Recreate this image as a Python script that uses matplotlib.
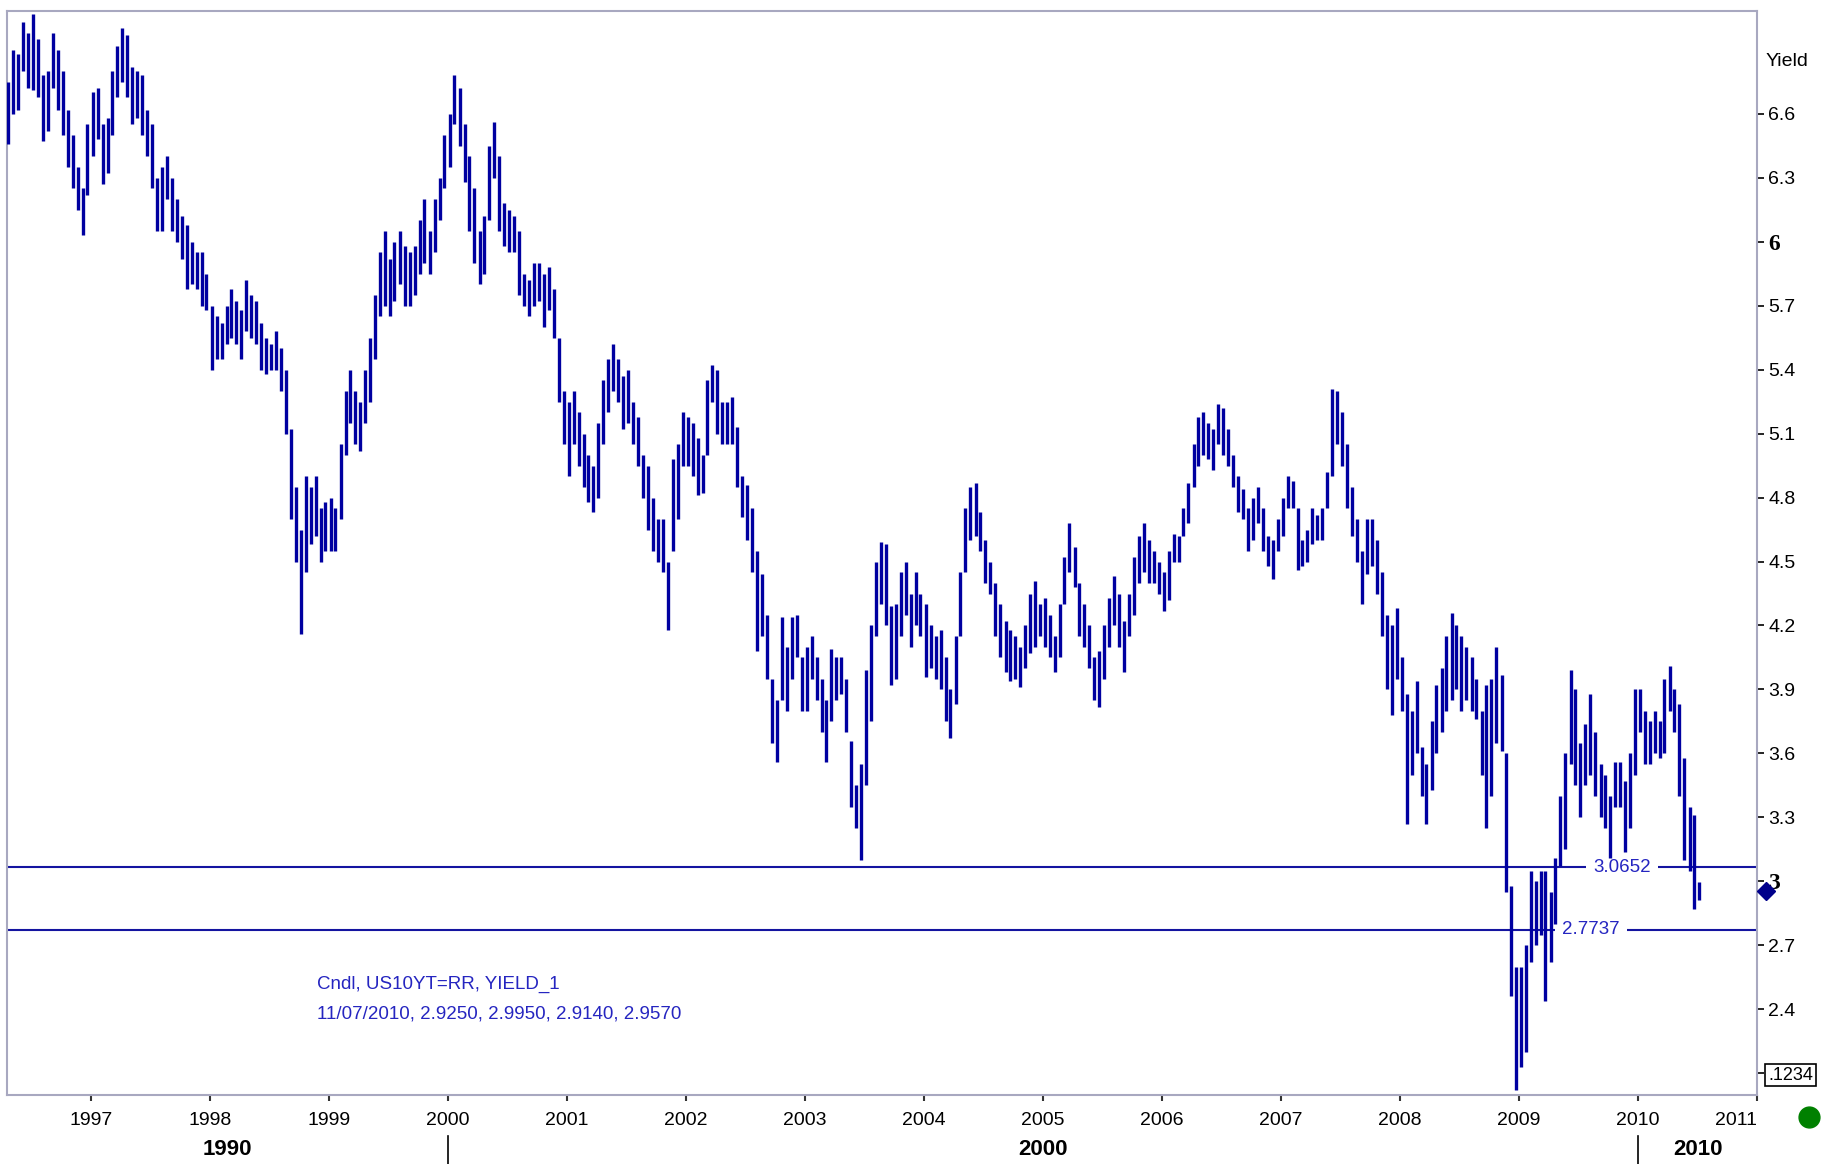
import numpy as np
import pandas as pd
import matplotlib
matplotlib.use('Agg')
import matplotlib.pyplot as plt
import matplotlib.transforms as mtrans

plt.rcParams['font.family'] = ['Liberation Sans', 'DejaVu Sans']

# half-monthly low / high of the US 10Y yield (US10YT=RR), from mid April 1996
lo_1996 = [6.46, 6.60, 6.62, 6.80, 6.72, 6.71, 6.68, 6.47, 6.52, 6.72, 6.62, 6.50, 6.35, 6.25, 6.15, 6.03, 6.22]
hi_1996 = [6.75, 6.90, 6.88, 7.03, 6.98, 7.07, 6.95, 6.78, 6.80, 6.98, 6.90, 6.80, 6.62, 6.50, 6.35, 6.25, 6.55]
lo_1997 = [6.40, 6.48, 6.27, 6.32, 6.50, 6.68, 6.75, 6.68, 6.55, 6.58, 6.50, 6.40, 6.25, 6.05, 6.05, 6.20, 6.05, 6.00, 5.92, 5.78, 5.80, 5.78, 5.70, 5.68]
hi_1997 = [6.70, 6.72, 6.55, 6.58, 6.80, 6.92, 7.00, 6.97, 6.82, 6.80, 6.78, 6.62, 6.55, 6.30, 6.35, 6.40, 6.30, 6.20, 6.12, 6.08, 6.00, 5.95, 5.95, 5.85]
lo_1998 = [5.40, 5.45, 5.45, 5.52, 5.55, 5.52, 5.45, 5.58, 5.55, 5.52, 5.40, 5.38, 5.40, 5.40, 5.30, 5.10, 4.70, 4.50, 4.16, 4.45, 4.58, 4.62, 4.50, 4.55]
hi_1998 = [5.70, 5.65, 5.62, 5.70, 5.78, 5.72, 5.68, 5.82, 5.75, 5.72, 5.62, 5.55, 5.52, 5.58, 5.50, 5.40, 5.12, 4.85, 4.65, 4.90, 4.85, 4.90, 4.75, 4.78]
lo_1999 = [4.55, 4.55, 4.70, 5.00, 5.15, 5.05, 5.02, 5.15, 5.25, 5.45, 5.65, 5.70, 5.65, 5.72, 5.80, 5.70, 5.70, 5.75, 5.85, 5.90, 5.85, 5.95, 6.10, 6.25]
hi_1999 = [4.80, 4.75, 5.05, 5.30, 5.40, 5.30, 5.25, 5.40, 5.55, 5.75, 5.95, 6.05, 5.92, 6.00, 6.05, 5.98, 5.95, 5.98, 6.10, 6.20, 6.05, 6.20, 6.30, 6.50]
lo_2000 = [6.35, 6.55, 6.45, 6.28, 6.05, 5.90, 5.80, 5.85, 6.10, 6.30, 6.05, 5.98, 5.95, 5.95, 5.75, 5.70, 5.65, 5.70, 5.72, 5.60, 5.68, 5.55, 5.25, 5.05]
hi_2000 = [6.60, 6.78, 6.72, 6.55, 6.40, 6.25, 6.05, 6.12, 6.45, 6.56, 6.40, 6.18, 6.15, 6.12, 6.05, 5.85, 5.82, 5.90, 5.90, 5.85, 5.88, 5.78, 5.55, 5.30]
lo_2001 = [4.90, 5.05, 4.95, 4.85, 4.78, 4.73, 4.80, 5.05, 5.20, 5.30, 5.25, 5.12, 5.15, 5.05, 4.95, 4.80, 4.65, 4.55, 4.50, 4.45, 4.18, 4.55, 4.70, 4.95]
hi_2001 = [5.25, 5.30, 5.20, 5.10, 5.00, 4.95, 5.15, 5.35, 5.45, 5.52, 5.45, 5.37, 5.40, 5.25, 5.18, 5.00, 4.95, 4.80, 4.70, 4.70, 4.50, 4.98, 5.05, 5.20]
lo_2002 = [4.95, 4.90, 4.81, 4.82, 5.00, 5.25, 5.10, 5.05, 5.05, 5.05, 4.85, 4.71, 4.60, 4.45, 4.08, 4.15, 3.95, 3.65, 3.56, 3.85, 3.80, 3.95, 4.05, 3.80]
hi_2002 = [5.18, 5.15, 5.08, 5.00, 5.35, 5.42, 5.40, 5.25, 5.25, 5.27, 5.13, 4.90, 4.86, 4.75, 4.55, 4.44, 4.25, 3.95, 3.85, 4.24, 4.10, 4.24, 4.25, 4.05]
lo_2003 = [3.80, 3.95, 3.85, 3.70, 3.56, 3.75, 3.85, 3.88, 3.70, 3.35, 3.25, 3.10, 3.45, 3.75, 4.15, 4.30, 4.20, 3.92, 3.95, 4.15, 4.25, 4.10, 4.20, 4.15]
hi_2003 = [4.10, 4.15, 4.05, 3.95, 3.85, 4.09, 4.05, 4.05, 3.95, 3.66, 3.45, 3.55, 3.99, 4.20, 4.50, 4.59, 4.58, 4.29, 4.30, 4.45, 4.50, 4.35, 4.45, 4.35]
lo_2004 = [3.96, 4.00, 3.95, 3.90, 3.75, 3.67, 3.83, 4.15, 4.45, 4.60, 4.62, 4.55, 4.40, 4.35, 4.15, 4.05, 3.98, 3.94, 3.95, 3.91, 4.00, 4.07, 4.10, 4.15]
hi_2004 = [4.30, 4.20, 4.15, 4.18, 4.05, 3.90, 4.15, 4.45, 4.75, 4.85, 4.87, 4.73, 4.60, 4.50, 4.40, 4.30, 4.22, 4.18, 4.15, 4.10, 4.20, 4.35, 4.41, 4.30]
lo_2005 = [4.10, 4.05, 3.98, 4.05, 4.30, 4.45, 4.38, 4.15, 4.10, 4.00, 3.85, 3.82, 3.95, 4.10, 4.20, 4.10, 3.98, 4.15, 4.25, 4.40, 4.45, 4.40, 4.40, 4.35]
hi_2005 = [4.33, 4.25, 4.15, 4.30, 4.52, 4.68, 4.57, 4.40, 4.30, 4.20, 4.05, 4.08, 4.20, 4.33, 4.43, 4.35, 4.22, 4.35, 4.52, 4.62, 4.68, 4.60, 4.55, 4.50]
lo_2006 = [4.27, 4.32, 4.50, 4.50, 4.62, 4.68, 4.85, 4.95, 5.00, 4.98, 4.93, 5.05, 5.00, 4.95, 4.85, 4.73, 4.70, 4.55, 4.60, 4.68, 4.55, 4.48, 4.42, 4.55]
hi_2006 = [4.45, 4.55, 4.63, 4.62, 4.75, 4.87, 5.05, 5.18, 5.20, 5.15, 5.12, 5.24, 5.22, 5.12, 5.00, 4.90, 4.84, 4.75, 4.80, 4.85, 4.75, 4.62, 4.60, 4.70]
lo_2007 = [4.62, 4.75, 4.75, 4.46, 4.48, 4.50, 4.58, 4.60, 4.60, 4.75, 4.90, 5.05, 4.95, 4.75, 4.62, 4.50, 4.30, 4.44, 4.48, 4.35, 4.15, 3.90, 3.78, 3.95]
hi_2007 = [4.80, 4.90, 4.88, 4.75, 4.60, 4.65, 4.75, 4.72, 4.75, 4.92, 5.31, 5.30, 5.20, 5.05, 4.85, 4.70, 4.55, 4.70, 4.70, 4.60, 4.45, 4.25, 4.20, 4.28]
lo_2008 = [3.80, 3.27, 3.50, 3.60, 3.40, 3.27, 3.43, 3.60, 3.70, 3.80, 3.85, 3.90, 3.80, 3.85, 3.80, 3.76, 3.50, 3.25, 3.40, 3.65, 3.61, 2.95, 2.46, 2.02]
hi_2008 = [4.05, 3.88, 3.80, 3.94, 3.63, 3.55, 3.75, 3.92, 4.00, 4.15, 4.26, 4.20, 4.15, 4.10, 4.05, 3.95, 3.80, 3.92, 3.95, 4.10, 3.97, 3.60, 2.98, 2.60]
lo_2009 = [2.13, 2.20, 2.62, 2.70, 2.75, 2.44, 2.62, 2.80, 3.07, 3.15, 3.55, 3.45, 3.30, 3.45, 3.50, 3.40, 3.30, 3.25, 3.11, 3.35, 3.35, 3.14, 3.25, 3.50]
hi_2009 = [2.60, 2.70, 3.05, 3.00, 3.05, 3.05, 2.95, 3.11, 3.40, 3.60, 3.99, 3.90, 3.65, 3.74, 3.88, 3.70, 3.55, 3.50, 3.40, 3.56, 3.56, 3.47, 3.60, 3.90]
lo_2010 = [3.70, 3.55, 3.55, 3.60, 3.58, 3.60, 3.80, 3.70, 3.40, 3.10, 3.05, 2.87, 2.914]
hi_2010 = [3.90, 3.80, 3.75, 3.80, 3.75, 3.95, 4.01, 3.90, 3.83, 3.58, 3.35, 3.31, 2.995]

# last candle (11/07/2010): open, high, low, close
last_date = '11/07/2010'
last_ohlc = [2.9250, 2.9950, 2.9140, 2.9570]

# horizontal levels drawn on the chart
levels = [3.0652, 2.7737]

y_ticks = [2.1, 2.4, 2.7, 3.0, 3.3, 3.6, 3.9, 4.2, 4.5, 4.8, 5.1, 5.4, 5.7, 6.0, 6.3, 6.6]
y_labels = ['.1234', '2.4', '2.7', '3', '3.3', '3.6', '3.9', '4.2', '4.5', '4.8', '5.1',
            '5.4', '5.7', '6', '6.3', '6.6']
years = list(range(1997, 2012))
decades = ['1990', '2000', '2010']

lows = (lo_1996 + lo_1997 + lo_1998 + lo_1999 + lo_2000 + lo_2001 + lo_2002 + lo_2003
        + lo_2004 + lo_2005 + lo_2006 + lo_2007 + lo_2008 + lo_2009 + lo_2010)
highs = (hi_1996 + hi_1997 + hi_1998 + hi_1999 + hi_2000 + hi_2001 + hi_2002 + hi_2003
         + hi_2004 + hi_2005 + hi_2006 + hi_2007 + hi_2008 + hi_2009 + hi_2010)
dates = pd.date_range('1996-04-15', periods=len(lows), freq='SMS') + pd.Timedelta(days=7)

bar_col = '#0000a0'
txt_col = '#2525c0'

fig = plt.figure(figsize=(18.21, 11.64), dpi=100)
ax = fig.add_axes([7/1821, 69/1164, 1750/1821, 1084/1164])

ax.vlines(dates, lows, highs, colors=bar_col, linewidth=2.4, zorder=4)

for lv in levels:
    ax.axhline(lv, color='#1414a0', linewidth=1.5, zorder=2)
trans_lv = mtrans.blended_transform_factory(ax.transAxes, ax.transData)
ax.text(0.9229, levels[0], '%.4f' % levels[0], transform=trans_lv, ha='center', va='center',
        fontsize=13.5, color=txt_col, zorder=3,
        bbox=dict(boxstyle='square,pad=0.4', fc='white', ec='none'))
ax.text(0.9051, levels[1], '%.4f' % levels[1], transform=trans_lv, ha='center', va='center',
        fontsize=13.5, color=txt_col, zorder=3,
        bbox=dict(boxstyle='square,pad=0.4', fc='white', ec='none'))

# current value marker on the axis
ax.plot([1.005], [last_ohlc[3]], marker='D', ms=9, color='#00008b', transform=trans_lv,
        clip_on=False, zorder=6)

ax.set_xlim(pd.Timestamp('1996-04-19'), pd.Timestamp('2011-01-01'))
ax.set_ylim(1.998, 7.082)

for s in ax.spines.values():
    s.set_color('#a8a8c0')
    s.set_linewidth(1.5)

ax.yaxis.tick_right()
ax.set_yticks(y_ticks)
ax.set_yticklabels(y_labels)
ax.tick_params(axis='y', direction='out', length=5, width=1.2, color='black',
               labelsize=14, pad=3)
for lab in ax.get_yticklabels():
    if lab.get_text() in ('3', '6'):
        lab.set_fontfamily('Liberation Serif')
        lab.set_fontweight('bold')
        lab.set_fontsize(17)
    if lab.get_text() == '.1234':
        lab.set_fontsize(13)
        lab.set_bbox(dict(boxstyle='square,pad=0.15', fc='white', ec='black', lw=1.2))

year_ticks = pd.to_datetime(['%d-01-01' % y for y in years])
ax.set_xticks(year_ticks)
ax.set_xticklabels([str(y) for y in years])
ax.tick_params(axis='x', direction='out', length=4, width=1.5, color='#333333',
               labelsize=14, pad=8)
ax.get_xticklabels()[-1].set_ha('right')

# decade row under the years
x0, x1 = ax.get_xlim()
bounds = [x0, matplotlib.dates.date2num(pd.Timestamp('2000-01-01')),
          matplotlib.dates.date2num(pd.Timestamp('2010-01-01')), x1]
trans_x = mtrans.blended_transform_factory(ax.transData, ax.transAxes)
for i, dec in enumerate(decades):
    ax.text((bounds[i] + bounds[i + 1]) / 2, -0.0505, dec, transform=trans_x, ha='center',
            va='center', fontsize=16, fontweight='bold', clip_on=False)
for b in bounds[1:3]:
    ax.plot([b, b], [-0.0378, -0.0637], transform=trans_x, color='black', lw=1.2,
            clip_on=False)

ax.text(0.1771, 0.1024, 'Cndl, US10YT=RR, YIELD_1', transform=ax.transAxes,
        fontsize=13.5, color=txt_col, va='center')
ax.text(0.1771, 0.0747, last_date + ', ' + ', '.join('%.4f' % v for v in last_ohlc),
        transform=ax.transAxes, fontsize=13.5, color=txt_col, va='center')

fig.text(1766/1821, 1 - 61/1164, 'Yield', fontsize=14, ha='left', va='center')
fig.add_artist(plt.Line2D([1809/1821], [1 - 1117/1164], marker='o', ms=15, color='#008000',
                          transform=fig.transFigure))

plt.savefig('out.png', dpi=100)
